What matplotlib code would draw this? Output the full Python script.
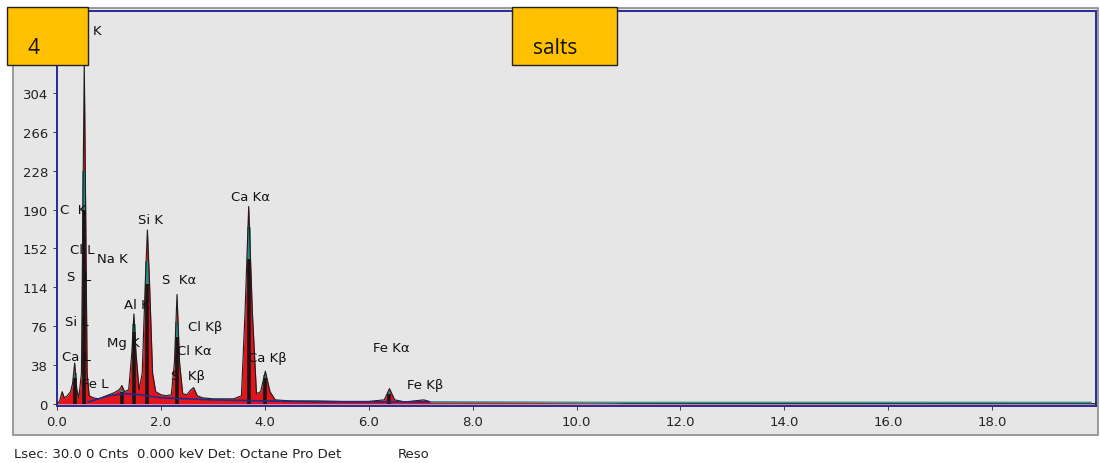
import numpy as np
import matplotlib
matplotlib.use("Agg")
import matplotlib.pyplot as plt
from matplotlib.patches import Rectangle

# spectrum (keV, counts)
energy = [0.0, 0.05, 0.1, 0.14, 0.2, 0.26, 0.3, 0.34, 0.38, 0.42, 0.47, 0.5, 0.525, 0.55,
          0.58, 0.62, 0.7, 0.8, 0.9, 1.0, 1.1, 1.2, 1.25, 1.3, 1.38, 1.44, 1.48, 1.52,
          1.58, 1.64, 1.7, 1.74, 1.78, 1.84, 1.9, 2.0, 2.1, 2.2, 2.26, 2.31, 2.36, 2.42,
          2.5, 2.58, 2.63, 2.7, 2.8, 3.0, 3.2, 3.4, 3.55, 3.62, 3.69, 3.76, 3.84, 3.92,
          4.01, 4.1, 4.2, 4.5, 5.0, 5.5, 6.0, 6.3, 6.4, 6.5, 6.7, 7.06, 7.2, 8.0, 9.0,
          10.0, 10.5, 11.0, 20.0]
counts = [0, 3, 12, 6, 8, 12, 20, 40, 15, 6, 30, 200, 335, 200,
          30, 8, 6, 5, 7, 9, 11, 14, 18, 12, 14, 50, 88, 50,
          14, 30, 120, 170, 120, 30, 12, 9, 8, 9, 40, 107, 40, 10,
          9, 14, 16, 8, 6, 5, 5, 5, 8, 90, 193, 90, 10, 12,
          32, 12, 4, 3, 3, 2.5, 2.5, 4, 15, 4, 2, 4, 2, 1.5, 1.5,
          1.2, 1, 0.5, 0.3]

# dark core of the main peaks: energy, top of black part, top of teal part
core_energy = [0.34, 0.525, 1.25, 1.48, 1.74, 2.31, 3.69, 4.01, 6.4]
core_black = [25, 190, 12, 70, 117, 65, 142, 25, 10]
core_teal = [30, 228, 14, 78, 140, 80, 173, 28, 12]

# continuum (background) line
bg_energy = [0.6, 1.0, 1.3, 1.6, 2.0, 2.5, 3.0, 3.5, 4.0, 5.0, 7.2]
bg_counts = [2, 8, 10, 9, 6, 5, 4, 3.5, 3, 2, 2]
tail_energy = [7.2, 10.5, 19.9]
tail_counts = [2, 1.5, 1.5]

yticks = [0, 38, 76, 114, 152, 190, 228, 266, 304]
xticks = [0, 2, 4, 6, 8, 10, 12, 14, 16, 18]

# peak labels (text, keV, counts); the O of "O K" sits under the yellow box
labels = [("K", 0.68, 365), ("C  K", 0.06, 190), ("Cl L", 0.25, 151), ("Na K", 0.77, 142),
          ("S  L", 0.19, 125), ("Si L", 0.15, 81), ("Ca L", 0.10, 46), ("Fe L", 0.48, 20),
          ("Mg K", 0.96, 60), ("Al K", 1.29, 97), ("Si K", 1.56, 180), ("S  Kα", 2.02, 122),
          ("Cl Kβ", 2.52, 76), ("Cl Kα", 2.31, 52), ("S  Kβ", 2.19, 28), ("Ca Kα", 3.35, 203),
          ("Ca Kβ", 3.68, 45), ("Fe Kα", 6.09, 55), ("Fe Kβ", 6.74, 19)]

fig = plt.figure(figsize=(11, 4.64), dpi=100)
fig.patch.set_facecolor("white")

# grey window panel
fig.patches.append(Rectangle((13 / 1100, 1 - 436 / 464), 1085 / 1100, 427 / 464,
                             transform=fig.transFigure, facecolor="#e6e6e6",
                             edgecolor="#8a8a8a", lw=1.2, zorder=-5))

ax = fig.add_axes([57 / 1100, 1 - 407 / 464, 1039 / 1100, 395 / 464])
ax.set_zorder(1)
ax.set_facecolor("#e6e6e6")
ax.set_xlim(0, 20)
ax.set_ylim(-2, 384)

ax.fill_between(energy, counts, 0, color="#e3141c", lw=0, zorder=2)
ax.vlines(core_energy, 0, core_black, color="#1a1414", lw=2.6, zorder=2.5)
ax.vlines(core_energy, core_black, core_teal, color="#2f8a80", lw=2.6, zorder=2.5)
ax.plot(energy, counts, color="#1c1c1c", lw=0.8, zorder=3)
ax.plot(bg_energy, bg_counts, color="#1f2a8a", lw=1.2, zorder=4)
ax.plot(tail_energy, tail_counts, color="#3a9a9a", lw=1.2, zorder=4)

for txt, x, y in labels:
    ax.text(x, y, txt, fontsize=9.5, color="#111111", ha="left", va="center", zorder=5)

ax.set_xticks(xticks)
ax.set_xticklabels(["%.1f" % v for v in xticks])
ax.set_yticks(yticks)
ax.tick_params(labelsize=9.5, colors="#222222", length=3, width=0.6)
for s in ax.spines.values():
    s.set_color("#2a2a9a")
    s.set_linewidth(1.4)

fig.text(14 / 1100, 1 - 455 / 464, "Lsec: 30.0 0 Cnts  0.000 keV Det: Octane Pro Det",
         fontsize=9.5, color="#222222", va="center")
fig.text(398 / 1100, 1 - 455 / 464, "Reso", fontsize=9.5, color="#222222", va="center")

# yellow annotation boxes
for x0, x1, txt, tx in [(7, 88, "4", 27), (512, 617, "salts", 533)]:
    fig.patches.append(Rectangle((x0 / 1100, 1 - 66 / 464), (x1 - x0) / 1100, 58 / 464,
                                 transform=fig.transFigure, facecolor="#ffc000",
                                 edgecolor="#222222", lw=1.0, zorder=10))
    fig.text(tx / 1100, 1 - 48 / 464, txt, fontsize=15, family="Open Sans",
             color="#111111", va="center", zorder=11)

fig.savefig("out.png", dpi=100, facecolor="white")
